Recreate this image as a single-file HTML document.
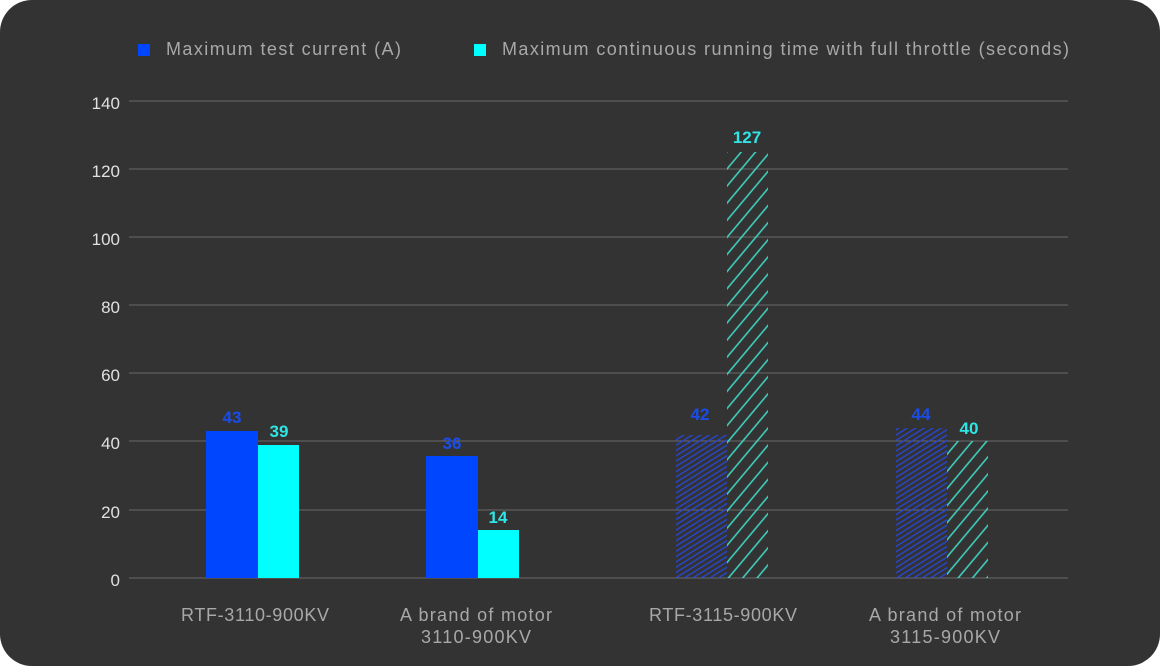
<!DOCTYPE html>
<html><head><meta charset="utf-8"><style>
html,body{margin:0;padding:0;background:#fff;}
.c{position:absolute;left:0;top:0;width:1160px;height:666px;background:#333;border-radius:32px;overflow:hidden;}
svg{position:absolute;left:0;top:0;}
text{font-family:"Liberation Sans",sans-serif;}
</style></head><body><div class="c">
<svg width="1160" height="666" viewBox="0 0 1160 666">
<defs>
<pattern id="hc" patternUnits="userSpaceOnUse" width="11" height="11" patternTransform="rotate(40)">
<line x1="5.5" y1="0" x2="5.5" y2="11" stroke="#3fd9c4" stroke-width="1.5"/>
</pattern>
<pattern id="hb" patternUnits="userSpaceOnUse" width="4.5" height="4.5" patternTransform="rotate(58)">
<line x1="2.25" y1="0" x2="2.25" y2="4.5" stroke="#2747d8" stroke-width="1.3"/>
</pattern>
</defs>
<rect x="138" y="44" width="12" height="12" fill="#0046ff"/>
<text x="166" y="55" font-size="18" fill="#a8a8a8" textLength="235">Maximum test current (A)</text>
<rect x="474" y="44" width="12" height="12" fill="#00ffff"/>
<text x="502" y="55" font-size="18" fill="#a8a8a8" textLength="567">Maximum continuous running time with full throttle (seconds)</text>
<g stroke="#6a6a6a" stroke-width="1">
<line x1="129" x2="1068" y1="101" y2="101"/><line x1="129" x2="1068" y1="169" y2="169"/>
<line x1="129" x2="1068" y1="237" y2="237"/><line x1="129" x2="1068" y1="305" y2="305"/>
<line x1="129" x2="1068" y1="373" y2="373"/><line x1="129" x2="1068" y1="441" y2="441"/>
<line x1="129" x2="1068" y1="510" y2="510"/><line x1="129" x2="1068" y1="578" y2="578"/>
</g>
<g font-size="17" fill="#e0e0e0" text-anchor="end">
<text x="120" y="109">140</text><text x="120" y="177">120</text><text x="120" y="245">100</text>
<text x="120" y="313">80</text><text x="120" y="381">60</text><text x="120" y="449">40</text>
<text x="120" y="518">20</text><text x="120" y="586">0</text>
</g>
<rect x="206" y="431" width="52" height="147" fill="#0046ff"/>
<rect x="258" y="445" width="41" height="133" fill="#00ffff"/>
<rect x="426" y="456" width="52" height="122" fill="#0046ff"/>
<rect x="478" y="530" width="41" height="48" fill="#00ffff"/>
<rect x="676" y="435" width="51" height="143" fill="url(#hb)"/>
<rect x="727" y="152" width="41" height="426" fill="url(#hc)"/>
<rect x="896" y="428" width="51" height="150" fill="url(#hb)"/>
<rect x="947" y="441" width="41" height="137" fill="url(#hc)"/>
<g font-size="17" font-weight="bold" text-anchor="middle">
<text x="232" y="423" fill="#1a4de8">43</text><text x="279" y="437" fill="#2ee6e6">39</text>
<text x="452" y="449" fill="#1a4de8">36</text><text x="498" y="523" fill="#2ee6e6">14</text>
<text x="700" y="420" fill="#1a4de8">42</text><text x="747" y="143" fill="#2ee6e6">127</text>
<text x="921" y="420" fill="#1a4de8">44</text><text x="969" y="434" fill="#2ee6e6">40</text>
</g>
<g font-size="18" fill="#a8a8a8" text-anchor="middle">
<text x="255" y="621" textLength="148">RTF-3110-900KV</text>
<text x="476" y="621" textLength="152">A brand of motor</text><text x="476" y="643" textLength="110">3110-900KV</text>
<text x="723" y="621" textLength="148">RTF-3115-900KV</text>
<text x="945" y="621" textLength="152">A brand of motor</text><text x="945" y="643" textLength="110">3115-900KV</text>
</g>
</svg></div></body></html>
